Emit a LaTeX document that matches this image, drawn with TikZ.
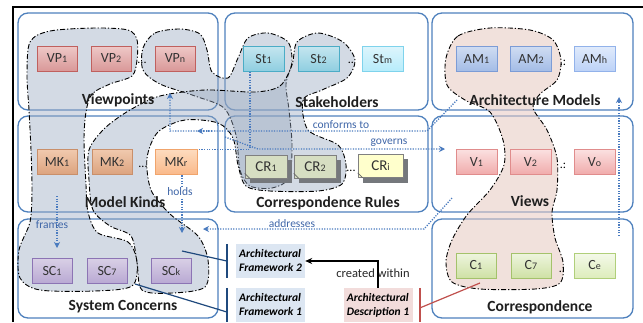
\documentclass[tikz,border=0pt]{standalone}
\usepackage{fontspec}
\setmainfont{Carlito}
\usetikzlibrary{arrows.meta,calc}
\pgfdeclarelayer{panels}
\pgfdeclarelayer{blobs}
\pgfdeclarelayer{conn}
\pgfsetlayers{panels,blobs,conn,main}
\definecolor{panelblue}{HTML}{4F81BD}
\definecolor{arrowblue}{HTML}{4A7BBF}
\definecolor{labelblue}{HTML}{3F66A8}
\definecolor{blobgray}{HTML}{98A8C0}
\definecolor{blobpink}{HTML}{E7C9C1}
\definecolor{fwfill}{HTML}{DCE6F2}
\definecolor{adfill}{HTML}{F2DCDB}
\definecolor{fwbarc}{HTML}{1F497D}
\definecolor{adred}{HTML}{C0504D}
\definecolor{vpT}{HTML}{EEC9C8}\definecolor{vpB}{HTML}{D99898}\definecolor{vpD}{HTML}{C0605E}
\definecolor{stT}{HTML}{C4E6EF}\definecolor{stB}{HTML}{8ECDE0}\definecolor{stD}{HTML}{4BACC6}
\definecolor{stmT}{HTML}{DDF5FC}\definecolor{stmB}{HTML}{B6ECFB}\definecolor{stmD}{HTML}{7FD3EC}
\definecolor{amT}{HTML}{CFDCF2}\definecolor{amB}{HTML}{A3BCE6}\definecolor{amD}{HTML}{7C9CD6}
\definecolor{amhT}{HTML}{E0EAFB}\definecolor{amhB}{HTML}{BCD2F7}\definecolor{amhD}{HTML}{92B2EA}
\definecolor{mkT}{HTML}{F0C9AE}\definecolor{mkB}{HTML}{DCA37E}\definecolor{mkD}{HTML}{C98F6A}
\definecolor{mkrT}{HTML}{FDDBBE}\definecolor{mkrB}{HTML}{FAB98A}\definecolor{mkrD}{HTML}{F0A46C}
\definecolor{crF}{HTML}{D6DEC2}\definecolor{crD}{HTML}{7F7F7F}\definecolor{criF}{HTML}{FFFFCC}
\definecolor{shadowc}{HTML}{75787C}
\definecolor{vT}{HTML}{FBE0E0}\definecolor{vB}{HTML}{F0ABAB}\definecolor{vD}{HTML}{E08C8C}
\definecolor{scT}{HTML}{D9D0E6}\definecolor{scB}{HTML}{B9A9D3}\definecolor{scD}{HTML}{8C74B4}
\definecolor{cT}{HTML}{EEF5DF}\definecolor{cB}{HTML}{CFE1A5}\definecolor{cD}{HTML}{A4C26B}
\definecolor{ceT}{HTML}{F4F9EA}\definecolor{ceB}{HTML}{DDEDBB}\definecolor{ceD}{HTML}{B0CF7A}
\newcommand{\smallsub}[1]{{\fontsize{10}{10}\selectfont #1}}
\begin{document}
\begin{tikzpicture}[x=1pt,y=-1pt,
  panel/.style={draw=panelblue, line width=1.3pt, rounded corners=10pt, fill=white, inner sep=0pt},
  ttl/.style={font=\fontsize{15.5}{17}\selectfont\bfseries, text=black!88, inner sep=1pt},
  nbox/.style={draw, line width=0.7pt, minimum width=40pt, minimum height=25pt, inner sep=0pt, font=\fontsize{14}{16}\selectfont, text=black!80},
  vpbox/.style={nbox, top color=vpT, bottom color=vpB, draw=vpD},
  stbox/.style={nbox, minimum width=41pt, top color=stT, bottom color=stB, draw=stD},
  stmbox/.style={nbox, minimum width=41pt, top color=stmT, bottom color=stmB, draw=stmD},
  ambox/.style={nbox, minimum width=41pt, top color=amT, bottom color=amB, draw=amD},
  amhbox/.style={nbox, minimum width=41pt, top color=amhT, bottom color=amhB, draw=amhD},
  mkbox/.style={nbox, top color=mkT, bottom color=mkB, draw=mkD},
  mkrbox/.style={nbox, minimum width=42pt, top color=mkrT, bottom color=mkrB, draw=mkrD},
  crbox/.style={nbox, minimum width=42pt, minimum height=23pt, fill=crF, draw=crD, font=\fontsize{15}{17}\selectfont},
  cribox/.style={crbox, minimum width=45pt, fill=criF, draw=black!50},
  crshadow/.style={fill=shadowc},
  crfold/.style={draw=black!60, line width=0.7pt},
  vbox/.style={nbox, minimum width=41pt, top color=vT, bottom color=vB, draw=vD},
  scbox/.style={nbox, top color=scT, bottom color=scB, draw=scD},
  cbox/.style={nbox, top color=cT, bottom color=cB, draw=cD},
  cebox/.style={nbox, minimum width=41pt, top color=ceT, bottom color=ceB, draw=ceD},
  blob/.style={draw=black, line width=0.9pt, dash pattern=on 5pt off 2pt on 1.2pt off 2pt},
  grayblob/.style={blob, fill=blobgray, fill opacity=0.42},
  pinkblob/.style={blob, fill=blobpink, fill opacity=0.55},
  dl/.style={draw=arrowblue, line width=1.3pt, dash pattern=on 1.2pt off 1.4pt, -{Stealth[length=6pt,width=6pt]}},
  lbl/.style={font=\fontsize{11.5}{13}\selectfont, text=labelblue, inner sep=1pt},
  dotsl/.style={font=\fontsize{12}{14}\selectfont, inner sep=0pt, text=black},
  fwbox/.style={fill=fwfill, align=left, font=\fontsize{11.5}{14}\selectfont\bfseries\itshape, inner sep=2pt, minimum width=69pt, minimum height=34pt, text=black},
  adbox/.style={fwbox, fill=adfill},
  fwbar/.style={draw=fwbarc, line width=1.8pt},
  fwline/.style={draw=fwbarc, line width=1.2pt},
  adline/.style={draw=adred, line width=1.2pt},
  adbar/.style={draw=adred, line width=1.6pt}
]
\useasboundingbox (0,0) rectangle (643,322);
% outer frame
\coordinate (frTL) at (13,7);
\coordinate (frTR) at (643,7);
\coordinate (frBL) at (13,322);
\draw[line width=1.5pt] (frBL) -- (frTL) -- (frTR);

\begin{pgfonlayer}{panels}
\node[panel, minimum width=200pt, minimum height=97pt] (pVP) at (118,61.5) {};
\node[panel, minimum width=203pt, minimum height=97pt] (pST) at (326.5,61.5) {};
\node[panel, minimum width=201pt, minimum height=97pt] (pAM) at (532.5,61.5) {};
\node[panel, minimum width=200pt, minimum height=96pt] (pMK) at (118,164) {};
\node[panel, minimum width=203pt, minimum height=96pt] (pCR) at (326.5,164) {};
\node[panel, minimum width=201pt, minimum height=96pt] (pV) at (532.5,164) {};
\node[panel, minimum width=200pt, minimum height=99pt] (pSC) at (118,268.5) {};
\node[panel, minimum width=201pt, minimum height=99pt] (pC) at (532.5,268.5) {};
\end{pgfonlayer}

\begin{pgfonlayer}{blobs}
% framework 1 (left)
\path[grayblob] plot[smooth cycle] coordinates {(30,42) (50,31) (95,28) (128,30) (137,40) (137,60) (132,76) (110,84) (92,94) (86,112) (84,140) (86,185) (88,212) (98,233) (128,242) (137,262) (132,286) (95,291) (40,290) (20,278) (19,250) (30,222) (32,190) (31,150) (29,110) (27,75)};
% framework 2, part with VPn, St1, CR1
\path[grayblob] plot[smooth cycle] coordinates {(143,48) (155,33) (180,29) (200,34) (207,50) (212,72) (228,78) (238,58) (248,38) (268,33) (288,42) (292,62) (286,84) (289,110) (292,145) (289,178) (272,188) (250,186) (240,170) (236,135) (224,108) (195,96) (160,84) (143,70)};
% framework 2, part with St2, CR2, MK2, SCk
\path[grayblob] plot[smooth cycle] coordinates {(297,42) (318,33) (343,42) (355,60) (347,78) (322,90) (303,100) (308,130) (338,145) (346,165) (342,184) (318,191) (270,191) (246,186) (238,165) (233,138) (218,123) (185,120) (158,132) (147,158) (151,190) (170,214) (198,236) (208,260) (205,287) (172,293) (142,290) (137,262) (131,236) (110,226) (93,210) (89,180) (89,150) (105,128) (130,110) (160,96) (205,90) (255,92) (280,86) (292,65)};
% architectural description
\path[pinkblob] plot[smooth cycle] coordinates {(446,58) (458,36) (490,28) (530,30) (553,40) (561,60) (557,80) (540,94) (533,108) (547,130) (557,158) (557,190) (552,212) (555,238) (563,262) (560,283) (535,289) (480,289) (452,282) (446,262) (452,240) (467,215) (490,190) (504,165) (503,140) (490,112) (465,100) (447,85)};
\end{pgfonlayer}

% titles
\node[ttl] (tVP) at (118,100) {Viewpoints};
\node[ttl] (tST) at (337,102) {Stakeholders};
\node[ttl] (tAM) at (535,100) {Architecture Models};
\node[ttl] (tMK) at (125,202) {Model Kinds};
\node[ttl] (tCR) at (328,203) {Correspondence Rules};
\node[ttl] (tV) at (530,201) {Views};
\node[ttl] (tSC) at (123,307) {System Concerns};
\node[ttl] (tC) at (540,307) {Correspondence};

% row 1
\node[vpbox] (VP1) at (57,58.5) {VP\smallsub{1}};
\node[vpbox] (VP2) at (111,58.5) {VP\smallsub{2}};
\node[vpbox] (VPn) at (175,58.5) {VP\smallsub{n}};
\node[dotsl] (dVP) at (142,63) {...};
\node[stbox] (St1) at (263.5,59) {St\smallsub{1}};
\node[stbox] (St2) at (318.5,59) {St\smallsub{2}};
\node[stmbox] (Stm) at (382.5,59) {St\smallsub{m}};
\node[dotsl] (dSt) at (351,63) {..};
\node[ambox] (AM1) at (476.5,59) {AM\smallsub{1}};
\node[ambox] (AM2) at (531,59) {AM\smallsub{2}};
\node[amhbox] (AMh) at (594.5,59) {AM\smallsub{h}};
\node[dotsl] (dAM) at (563,63) {.:};
% row 2
\node[mkbox] (MK1) at (57,162) {MK\smallsub{1}};
\node[mkbox] (MK2) at (112,162) {MK\smallsub{2}};
\node[mkrbox] (MKr) at (176,162) {MK\smallsub{r}};
\node[dotsl] (dMK) at (143,167) {...};
\node[crbox] (CR1) at (266,166.5) {CR\smallsub{1}};
\node[crbox] (CR2) at (315,166.5) {CR\smallsub{2}};
\node[cribox] (CRi) at (380.5,166) {CR\smallsub{i}};
\node[dotsl] (dCR) at (351,171) {...};
\foreach \n in {CR1,CR2,CRi}{
  \draw[crfold] ([yshift=5pt]\n.south west) -- ([xshift=5pt]\n.south west);
}
\node[vbox] (V1) at (476.5,162) {V\smallsub{1}};
\node[vbox] (V2) at (530.5,162) {V\smallsub{2}};
\node[vbox] (Vo) at (594.5,162) {V\smallsub{o}};
\node[dotsl] (dV) at (563,166) {.:};
% row 3
\node[scbox] (SC1) at (52,270.5) {SC\smallsub{1}};
\node[scbox] (SC7) at (107,270.5) {SC\smallsub{7}};
\node[scbox] (SCk) at (171,270.5) {SC\smallsub{k}};
\node[cbox] (C1) at (476,265.5) {C\smallsub{1}};
\node[cbox] (C7) at (531,265.5) {C\smallsub{7}};
\node[cebox] (Ce) at (594.5,265.5) {C\smallsub{e}};
\node[dotsl] (dC) at (562,270) {.:};

% framework / description boxes
\node[fwbox] (AF2) at (270.5,261) {Architectural\\Framework 2};
\node[fwbox] (AF1) at (270.5,305) {Architectural\\Framework 1};
\node[adbox] (AD1) at (378,305) {Architectural\\Description 1};
\draw[fwbar] ([xshift=-9pt]AF2.north west) -- ([xshift=-9pt]AF2.south west);
\draw[fwbar] ([xshift=-9pt]AF1.north west) -- ([xshift=-9pt]AF1.south west);
\draw[adbar] ([xshift=7pt]AD1.north east) -- ([xshift=7pt]AD1.south east);

% link labels
\node[lbl] (lConf) at (341,125) {conforms to};
\node[lbl] (lGov) at (389,143) {governs};
\node[lbl, fill=white] (lHolds) at (180,192) {holds};
\node[lbl] (lFrames) at (52,225) {frames};
\node[lbl] (lAddr) at (292,224) {addresses};
\node[font=\fontsize{12.5}{14}\selectfont, text=black!85, inner sep=0pt] (lCreated) at (373,273) {created within};

% connectors
\coordinate (cfA) at (457,100);
\coordinate (cfB) at (427,131);
\coordinate (cfVP) at (170,93);
\coordinate (cfMKs) at (212,131);
\coordinate (cfMK) at (197,131);
\coordinate (gvA) at (225,137);
\coordinate (gvB) at (258,149);
\coordinate (gvV) at (445,149);
\coordinate (adA) at (452,198);
\coordinate (adB) at (424,229);
\coordinate (adSC) at (203,229);
\coordinate (upC) at (619,236);
\coordinate (upAM) at (619,97);
\coordinate (frA) at (57,196);
\coordinate (frSC) at (57,248);
\coordinate (hoSC) at (182,233);
\coordinate (fw2src) at (182,251);
\coordinate (fw1src) at (135,284);
\coordinate (adsrc) at (480,283);
\begin{pgfonlayer}{conn}
\foreach \n in {CR1,CR2,CRi}{
  \fill[crshadow] ([xshift=5pt,yshift=-5pt]\n.south west) rectangle ([xshift=5pt,yshift=-5pt]\n.north east);
}
\draw[dl] (cfA) -- (cfB) -| (cfVP);
\draw[dl] (cfMKs) -- (cfMK);
\draw[dl] (gvA) -- (gvB) -- (gvV);
\draw[dl] (adA) -- (adB) -- (adSC);
\draw[dl] (upC) -- (upAM);
\draw[dl] (frA) -- (frSC);
\draw[dl] ([xshift=-13.5pt]St1.south) |- ([xshift=6pt]MKr.north) -- ([xshift=6pt]MKr.south) -- (hoSC);
\end{pgfonlayer}
\draw[fwline] (fw2src) -- ([xshift=-9pt]AF2.west);
\draw[fwline] (fw1src) -- ([xshift=-9pt,yshift=-7pt]AF1.west);
\draw[adline] (adsrc) -- ([xshift=7pt,yshift=-3pt]AD1.east);
\draw[line width=1.1pt, -{Stealth[length=7pt,width=6pt]}] (AD1.north) |- (AF2.east);
\end{tikzpicture}
\end{document}
